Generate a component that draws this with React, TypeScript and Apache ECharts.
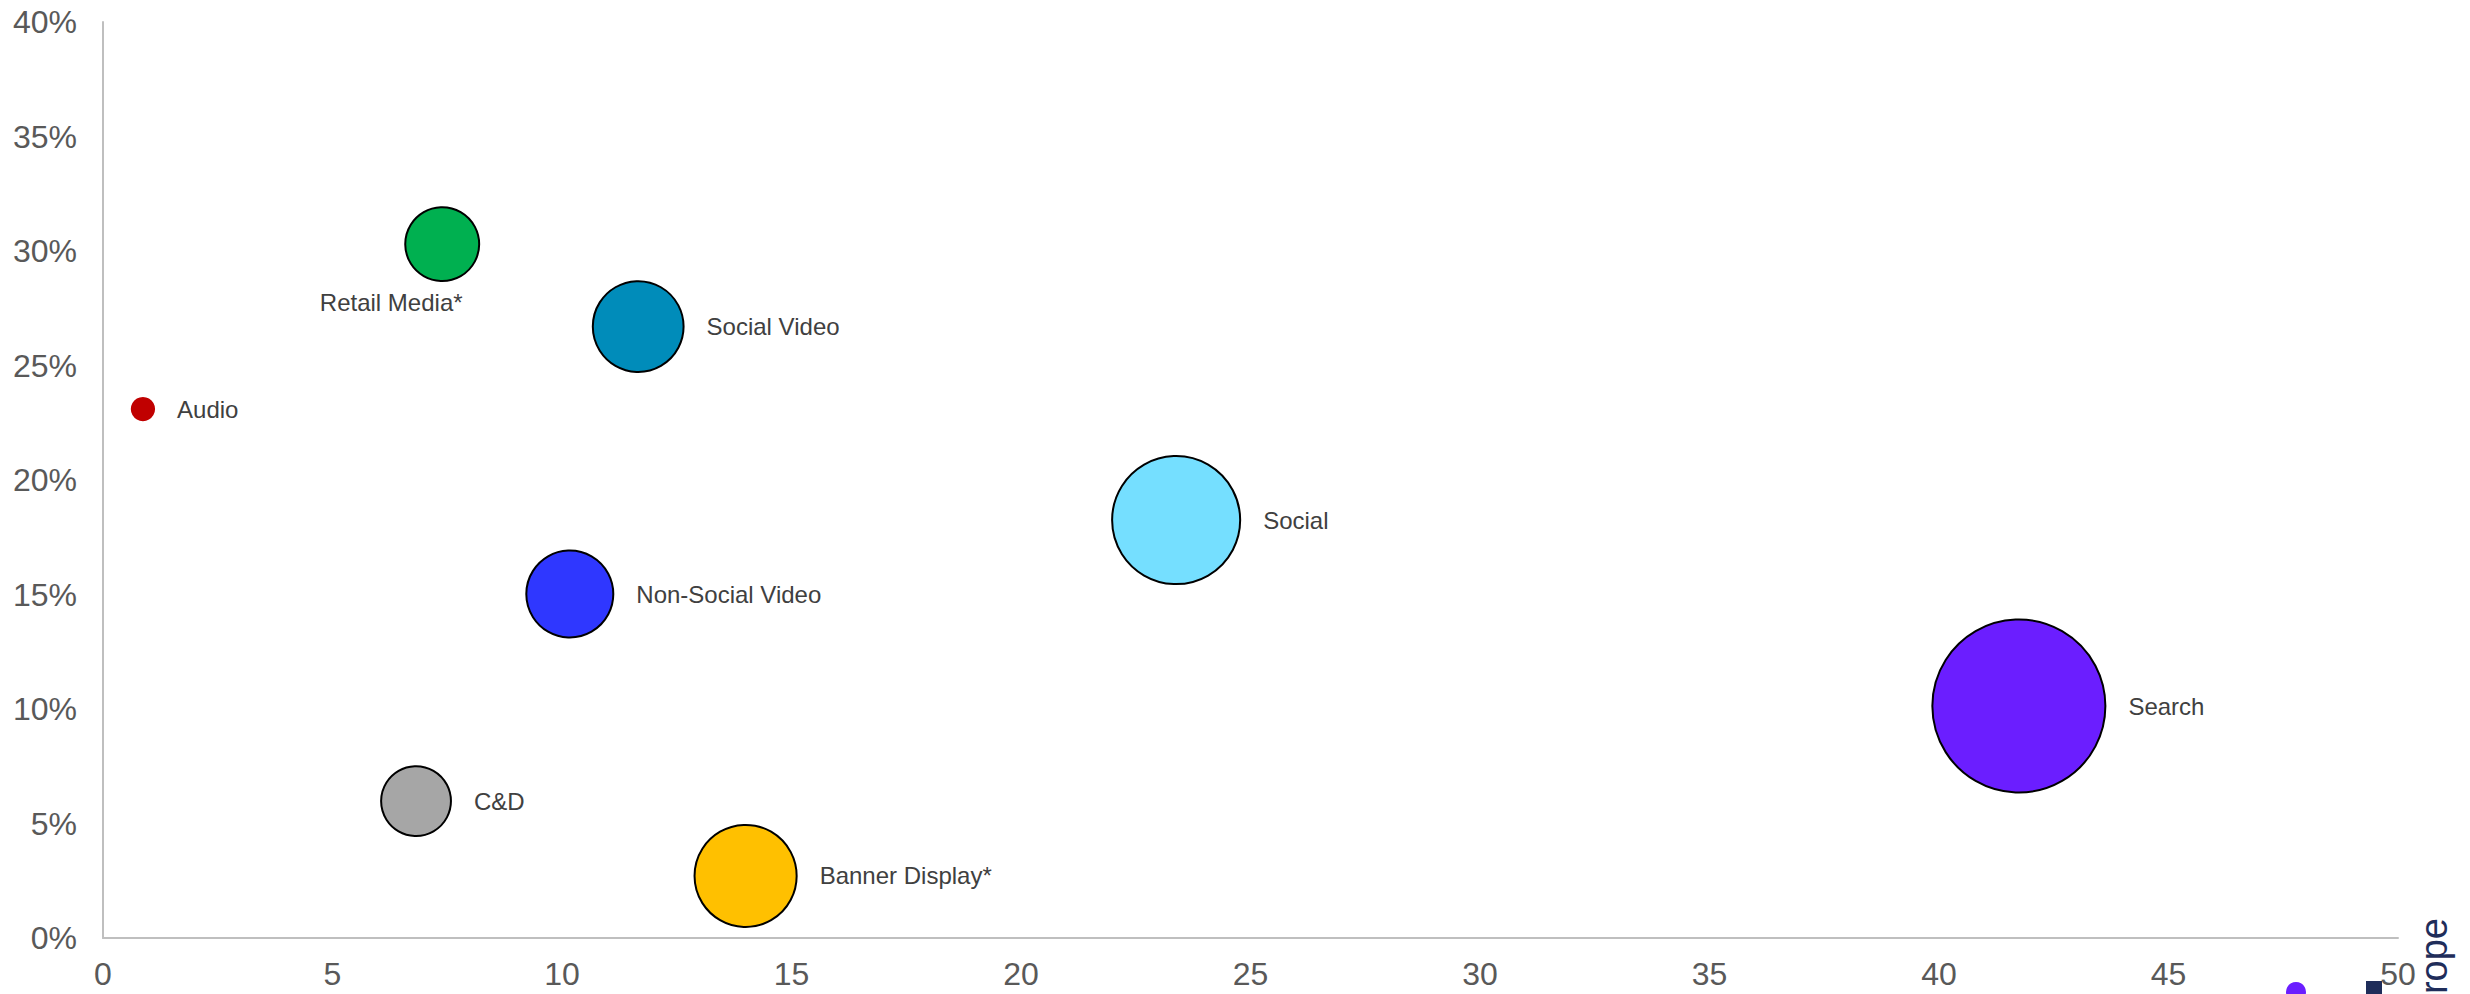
import React, { useEffect, useRef } from "react";
import * as echarts from "echarts";

const categories = [
  "Retail Media*",
  "Social Video",
  "Audio",
  "Social",
  "Non-Social Video",
  "Search",
  "C&D",
  "Banner Display*",
];
const xValues = [7.39, 11.66, 0.87, 23.38, 10.17, 41.74, 6.82, 14.0];
const yValues = [30.3, 26.7, 23.1, 18.25, 15.02, 10.13, 5.98, 2.71];
const bubbleValues = [6.5, 9.8, 0.7, 19.5, 9.0, 35.6, 5.8, 12.4];
const xTickMin = 0;
const xTickMax = 50;
const xTickStep = 5;
const yTickMin = 0;
const yTickMax = 40;
const yTickStep = 5;

const palette = [
  "#00B050",
  "#008CBA",
  "#C00000",
  "#75DFFF",
  "#2F37FF",
  "#6B1EFF",
  "#A6A6A6",
  "#FFC000",
];

export default function App() {
  const ref = useRef<HTMLDivElement>(null);
  useEffect(() => {
    if (!ref.current) return;
    const chart = echarts.init(ref.current, null, { renderer: "svg" });
    const data = categories.map((name, i) => {
      const isRetail = name === "Retail Media*";
      const isAudio = name === "Audio";
      return {
        name,
        value: [xValues[i], yValues[i], bubbleValues[i]],
        itemStyle: {
          color: palette[i],
          opacity: 1,
          borderColor: "#000000",
          borderWidth: isAudio ? 0 : 2,
        },
        label: isRetail
          ? { position: "bottom", distance: 8, offset: [-51, 0] }
          : { position: "right", distance: 22 },
      };
    });
    chart.setOption({
      animation: false,
      backgroundColor: "#ffffff",
      grid: { left: 103, right: 72, top: 22, bottom: 56 },
      xAxis: {
        type: "value",
        min: xTickMin,
        max: xTickMax,
        interval: xTickStep,
        axisLine: { show: true, lineStyle: { color: "#BFBFBF", width: 2 } },
        axisTick: { show: false },
        splitLine: { show: false },
        axisLabel: {
          margin: 20,
          color: "#595959",
          fontSize: 32,
          fontFamily: "'Liberation Sans Narrow', 'Liberation Sans', Arial, sans-serif",
        },
      },
      yAxis: {
        type: "value",
        min: yTickMin,
        max: yTickMax,
        interval: yTickStep,
        axisLine: { show: true, lineStyle: { color: "#BFBFBF", width: 2 } },
        axisTick: { show: false },
        splitLine: { show: false },
        axisLabel: {
          margin: 26,
          color: "#595959",
          fontSize: 32,
          fontFamily: "'Liberation Sans', Arial, sans-serif",
          formatter: (v: number) => `${v}%`,
        },
      },
      series: [
        {
          type: "scatter",
          data,
          symbol: "circle",
          symbolSize: (val: number[]) => Math.sqrt(val[2]) * 29,
          itemStyle: { opacity: 1 },
          label: {
            show: true,
            formatter: "{b}",
            color: "#404040",
            fontSize: 24,
            fontFamily: "'Liberation Sans', Arial, sans-serif",
          },
          emphasis: { disabled: true },
        },
      ],
      graphic: [
        {
          type: "circle",
          shape: { cx: 2296, cy: 992, r: 10 },
          style: { fill: "#6B1EFF" },
          silent: true,
        },
        {
          type: "rect",
          shape: { x: 2366, y: 981, width: 16, height: 20 },
          style: { fill: "#1F2D5A" },
          silent: true,
        },
        {
          type: "text",
          x: 2434,
          y: 918,
          rotation: Math.PI / 2,
          style: {
            text: "Europe",
            fill: "#1F2D5A",
            fontSize: 38,
            fontFamily: "'Liberation Sans', Arial, sans-serif",
            textAlign: "right",
            textVerticalAlign: "middle",
          },
          silent: true,
        },
      ],
    });
    return () => chart.dispose();
  }, []);
  return (
    <div
      ref={ref}
      style={{ position: "fixed", left: 0, top: 0, width: 2470, height: 994 }}
    />
  );
}
